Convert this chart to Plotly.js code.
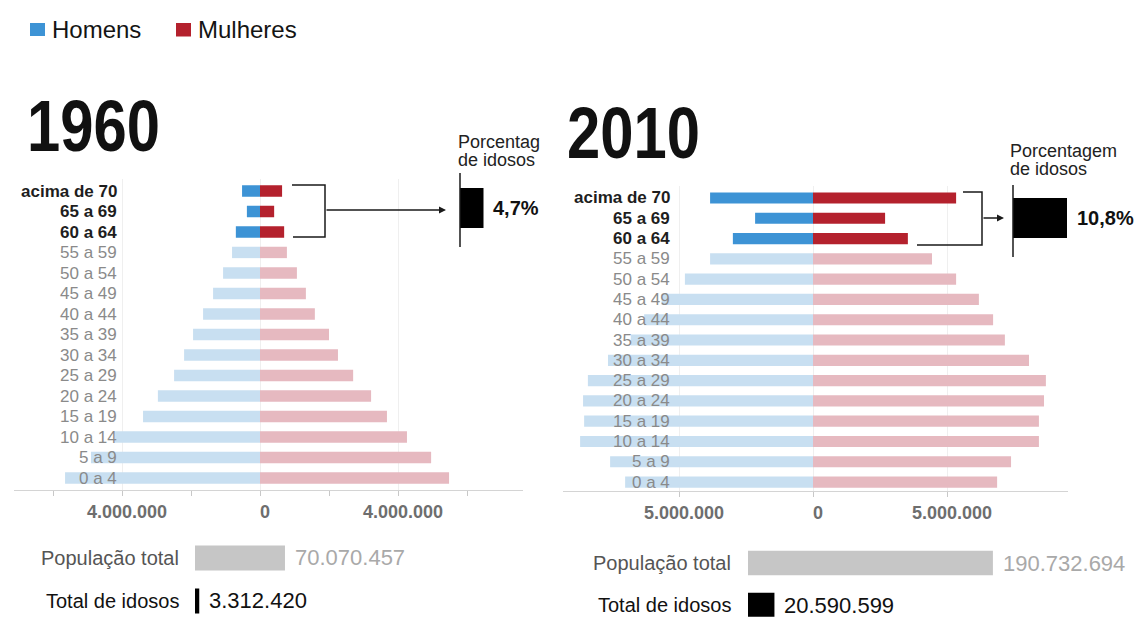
<!DOCTYPE html>
<html><head><meta charset="utf-8">
<script src="https://cdn.plot.ly/plotly-3.0.1.min.js"></script>
<style>html,body{margin:0;padding:0;background:#fff;}#chart{width:1135px;height:617px;}</style>
</head><body><div id="chart"></div>
<script>
// ---- data (population in millions) ----
const ageGroups = ['acima de 70','65 a 69','60 a 64','55 a 59','50 a 54','45 a 49','40 a 44','35 a 39','30 a 34','25 a 29','20 a 24','15 a 19','10 a 14','5 a 9','0 a 4'];
const elderlyCount = 3; // first three groups are the elderly (highlighted)
const men1960   = [0.52,0.38,0.70,0.81,1.07,1.36,1.65,1.94,2.20,2.49,2.96,3.39,4.20,4.90,5.65];
const women1960 = [0.64,0.41,0.70,0.78,1.07,1.33,1.59,2.00,2.26,2.70,3.22,3.68,4.26,4.96,5.48];
const men2010   = [3.84,2.16,2.99,3.84,4.78,5.65,6.30,6.80,7.65,8.40,8.58,8.54,8.69,7.57,7.01];
const women2010 = [5.34,2.69,3.54,4.44,5.34,6.19,6.72,7.16,8.06,8.69,8.62,8.43,8.43,7.39,6.87];
const totalLabels = ['População total','Total de idosos'];
const totals1960 = [70070457, 3312420];
const totals2010 = [190732694, 20590599];
const pct1960 = [4.7];
const pct2010 = [10.8];
const years = ['1960','2010'];
const axisLabel1960 = 4000000;
const axisLabel2010 = 5000000;

// ---- styling ----
const W = 1135, H = 617;
const px = x => x / W, py = y => 1 - y / H;
const FONT = 'Liberation Sans, Arial, Helvetica, sans-serif';
const MALE_DARK = '#3d93d5', MALE_LIGHT = '#c8dff1';
const FEMALE_DARK = '#b4212d', FEMALE_LIGHT = '#e6b9c0';
const fmt = n => String(Math.round(n)).replace(/\B(?=(\d{3})+(?!\d))/g, '.');
const fmtPct = v => String(v).replace('.', ',') + '%';

const traces = [];
function pyramid(men, women, xa, ya) {
  traces.push({type:'bar', orientation:'h', y:ageGroups, x:men.map(v => -v * 1e6), width:0.55,
    marker:{color: ageGroups.map((g,i) => i < elderlyCount ? MALE_DARK : MALE_LIGHT)},
    xaxis:xa, yaxis:ya, hoverinfo:'skip'});
  traces.push({type:'bar', orientation:'h', y:ageGroups, x:women.map(v => v * 1e6), width:0.55,
    marker:{color: ageGroups.map((g,i) => i < elderlyCount ? FEMALE_DARK : FEMALE_LIGHT)},
    xaxis:xa, yaxis:ya, hoverinfo:'skip'});
}
pyramid(men1960, women1960, 'x', 'y');
pyramid(men2010, women2010, 'x2', 'y2');
traces.push({type:'bar', orientation:'h', y:totalLabels, x:totals1960, width:0.58,
  marker:{color:['#c6c6c6','#000000']}, xaxis:'x3', yaxis:'y3', hoverinfo:'skip'});
traces.push({type:'bar', orientation:'h', y:totalLabels, x:totals2010, width:0.58,
  marker:{color:['#c6c6c6','#000000']}, xaxis:'x4', yaxis:'y4', hoverinfo:'skip'});
traces.push({type:'bar', orientation:'h', y:['idosos'], x:pct1960, width:1,
  marker:{color:'#000'}, xaxis:'x5', yaxis:'y5', hoverinfo:'skip'});
traces.push({type:'bar', orientation:'h', y:['idosos'], x:pct2010, width:1,
  marker:{color:'#000'}, xaxis:'x6', yaxis:'y6', hoverinfo:'skip'});

function pyrX(d0, d1, zero, pxPerM, labelVal, step, anchor) {
  return {domain:[px(d0), px(d1)], range:[-(zero - d0) / pxPerM * 1e6, (d1 - zero) / pxPerM * 1e6],
    anchor:anchor, tickmode:'array', tickvals:[-labelVal, 0, labelVal],
    ticktext:[fmt(labelVal), '0', fmt(labelVal)],
    ticks:'outside', ticklen:5, tickcolor:'#c8c8c8', showline:true, linecolor:'#d4d4d4', linewidth:1,
    showgrid:true, gridcolor:'#efefef', zeroline:false,
    minor:{tickmode:'linear', tick0:0, dtick:step, ticks:'outside', ticklen:5, tickcolor:'#c8c8c8', showgrid:false},
    tickfont:{family:FONT, size:18, color:'#6e6e6e', weight:'bold'}, ticklabelshift:5, fixedrange:true};
}
function catY(top, bottom, range, anchor, cats) {
  return {domain:[py(bottom), py(top)], range:range, type:'category', categoryorder:'array',
    categoryarray:cats, anchor:anchor, visible:false, fixedrange:true};
}
function plainX(d0, d1, range, anchor) {
  return {domain:[px(d0), px(d1)], range:range, anchor:anchor, visible:false, fixedrange:true};
}

const layout = {
  width:W, height:H, margin:{l:0, r:0, t:0, b:0}, showlegend:false, barmode:'overlay',
  paper_bgcolor:'#ffffff', plot_bgcolor:'rgba(0,0,0,0)', font:{family:FONT},
  xaxis: pyrX(14, 523, 260, 34.5, axisLabel1960, 2000000, 'y'),
  yaxis: catY(178.7, 490, [14.585, -0.6], 'x', ageGroups),
  xaxis2: pyrX(563, 1068, 813, 26.8, axisLabel2010, 5000000, 'y2'),
  yaxis2: catY(185.8, 491, [14.44, -0.6], 'x2', ageGroups),
  xaxis3: plainX(195, 395, [0, 200 / 1.284 * 1e6], 'y3'),
  yaxis3: catY(536.5, 616, [1.35, -0.5], 'x3', totalLabels),
  xaxis4: plainX(748, 1000, [0, 252 / 1.284 * 1e6], 'y4'),
  yaxis4: catY(542, 616.8, [1.28, -0.5], 'x4', totalLabels),
  xaxis5: plainX(460, 560, [0, 20], 'y5'),
  yaxis5: catY(188, 228, [-0.5, 0.5], 'x5', ['idosos']),
  xaxis6: plainX(1013, 1113, [0, 20], 'y6'),
  yaxis6: catY(198, 238, [-0.5, 0.5], 'x6', ['idosos']),
  annotations: [], shapes: []
};
const A = layout.annotations, S = layout.shapes;

// legend
S.push({type:'rect', xref:'paper', yref:'paper', x0:px(30), x1:px(45), y0:py(36), y1:py(23), fillcolor:MALE_DARK, line:{width:0}});
S.push({type:'rect', xref:'paper', yref:'paper', x0:px(176), x1:px(191), y0:py(36.5), y1:py(23), fillcolor:FEMALE_DARK, line:{width:0}});
A.push({xref:'paper', yref:'paper', x:px(50), y:py(30), xanchor:'left', yanchor:'middle', showarrow:false,
  text:'Homens', font:{family:FONT, size:24, color:'#141414'}});
A.push({xref:'paper', yref:'paper', x:px(196), y:py(30), xanchor:'left', yanchor:'middle', showarrow:false,
  text:'Mulheres', font:{family:FONT, size:24, color:'#141414'}});

// year titles (condensed afterwards)
const titleIdx = [A.length, A.length + 1];
A.push({xref:'paper', yref:'paper', x:px(25), y:py(126), xanchor:'left', yanchor:'middle', showarrow:false,
  text:'<b>' + years[0] + '</b>', font:{family:FONT, size:72, color:'#111'}});
A.push({xref:'paper', yref:'paper', x:px(565), y:py(133), xanchor:'left', yanchor:'middle', showarrow:false,
  text:'<b>' + years[1] + '</b>', font:{family:FONT, size:72, color:'#111'}});

// age-group labels
function ageLabels(xRight, yref) {
  ageGroups.forEach((g, i) => {
    const elder = i < elderlyCount;
    A.push({xref:'paper', yref:yref, x:px(xRight), y:g, xanchor:'right', yanchor:'middle', showarrow:false,
      text: elder ? '<b>' + g + '</b>' : g,
      font:{family:FONT, size:17, color: elder ? '#1e1e1e' : '#8a8a8a'}});
  });
}
ageLabels(119, 'y');
ageLabels(672, 'y2');

// totals labels and values
function totalsText(xRight, xa, ya, vals) {
  totalLabels.forEach((t, i) => {
    A.push({xref:'paper', yref:ya, x:px(xRight), y:t, xanchor:'right', yanchor:'middle', showarrow:false,
      text:t, font:{family:FONT, size:20, color: i === 0 ? '#555' : '#111'}});
    A.push({xref:xa, yref:ya, x:vals[i], y:t, xanchor:'left', yanchor:'middle', xshift:8, showarrow:false,
      text:fmt(vals[i]), font:{family:FONT, size:22, color: i === 0 ? '#a9a9a9' : '#111'}});
  });
}
totalsText(181, 'x3', 'y3', totals1960);
totalsText(733, 'x4', 'y4', totals2010);

// percentage boxes
A.push({xref:'x5', yref:'y5', x:pct1960[0], y:'idosos', xanchor:'left', yanchor:'middle', xshift:7, showarrow:false,
  text:'<b>' + fmtPct(pct1960[0]) + '</b>', font:{family:FONT, size:20, color:'#111'}});
A.push({xref:'x6', yref:'y6', x:pct2010[0], y:'idosos', xanchor:'left', yanchor:'middle', xshift:8, showarrow:false,
  text:'<b>' + fmtPct(pct2010[0]) + '</b>', font:{family:FONT, size:20, color:'#111'}});
A.push({xref:'paper', yref:'paper', x:px(456), y:py(142), xanchor:'left', yanchor:'middle', showarrow:false,
  text:'Porcentag', font:{family:FONT, size:18, color:'#222'}});
A.push({xref:'paper', yref:'paper', x:px(456), y:py(160), xanchor:'left', yanchor:'middle', showarrow:false,
  text:'de idosos', font:{family:FONT, size:18, color:'#222'}});
A.push({xref:'paper', yref:'paper', x:px(1008), y:py(151), xanchor:'left', yanchor:'middle', showarrow:false,
  text:'Porcentagem', font:{family:FONT, size:18, color:'#222'}});
A.push({xref:'paper', yref:'paper', x:px(1008), y:py(169), xanchor:'left', yanchor:'middle', showarrow:false,
  text:'de idosos', font:{family:FONT, size:18, color:'#222'}});

// brackets, connectors, arrows
const path = pts => pts.map((p, i) => (i ? 'L' : 'M') + px(p[0]) + ',' + py(p[1])).join(' ');
const lineStyle = {color:'#1a1a1a', width:1.5};
S.push({type:'path', xref:'paper', yref:'paper', path:path([[292,185],[325,185],[325,237],[293,237]]), line:lineStyle});
S.push({type:'path', xref:'paper', yref:'paper', path:path([[963,192],[982,192],[982,245],[917,245]]), line:lineStyle});
S.push({type:'line', xref:'paper', yref:'paper', x0:px(460), x1:px(460), y0:py(173), y1:py(247), line:lineStyle});
S.push({type:'line', xref:'paper', yref:'paper', x0:px(1013), x1:px(1013), y0:py(185), y1:py(257), line:lineStyle});
A.push({xref:'paper', yref:'paper', x:px(446), y:py(210), ax:-121, ay:0, text:'', showarrow:true,
  arrowhead:2, arrowsize:1, arrowwidth:1.4, arrowcolor:'#1a1a1a', standoff:0});
A.push({xref:'paper', yref:'paper', x:px(1004), y:py(218), ax:-22, ay:0, text:'', showarrow:true,
  arrowhead:2, arrowsize:1, arrowwidth:1.4, arrowcolor:'#1a1a1a', standoff:0});

Plotly.newPlot('chart', traces, layout, {staticPlot:true, displayModeBar:false}).then(gd => {
  // the year titles in the reference use a condensed bold face: narrow them horizontally
  titleIdx.forEach(idx => {
    const t = gd.querySelector('.annotation[data-index="' + idx + '"] text');
    if (!t) return;
    const bb = t.getBBox();
    const prev = t.getAttribute('transform') || '';
    t.setAttribute('transform', (prev + ' translate(' + bb.x + ',0) scale(0.83,1) translate(' + (-bb.x) + ',0)').trim());
  });
});
</script></body></html>
